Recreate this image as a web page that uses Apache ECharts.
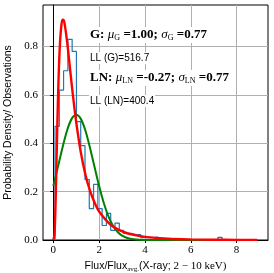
<!DOCTYPE html>
<html><head><meta charset="utf-8">
<script src="https://cdn.jsdelivr.net/npm/echarts@6/dist/echarts.min.js"></script>
<style>html,body{margin:0;padding:0;background:#fff}#c{width:274px;height:273px}</style>
</head><body><div id="c"></div>
<script>
// Histogram (step outline): first bin edge, bin width, densities
const binStart = 0.074;
const binWidth = 0.187;
const histValues = [0.47,0.62,0.70,0.83,0.78,0.49,0.39,0.25,0.13,0.23,0.13,0.06,0.11,0.04,0.07,0.04,0.027,0.027,0.022,0.022,0.01,0.01,0.01,0.012,0,0.005,0,0,0,0,0,0,0,0,0,0,0,0,0.011,0,0,0,0,0,0,0,0];
// Gaussian fit curve
const gaussX = [0,0.2,0.4,0.6,0.8,1.0,1.2,1.4,1.6,1.8,2.0,2.2,2.4,2.6,2.8,3.0,3.3,3.6,4.0,5.0,6.0,7.0,8.0,8.9];
const gaussY = [0.223,0.302,0.382,0.453,0.501,0.518,0.501,0.453,0.382,0.302,0.223,0.154,0.099,0.060,0.034,0.018,0.006,0.0017,0.0003,0,0,0,0,0];
// Log-normal fit curve
const lnX = [0,0.05,0.1,0.15,0.2,0.25,0.3,0.35,0.4,0.45,0.5,0.6,0.7,0.8,0.9,1.0,1.2,1.4,1.6,1.8,2.0,2.5,3.0,3.5,4.0,5.0,6.0,7.0,8.0,8.9];
const lnY = [0,0.020,0.159,0.371,0.571,0.725,0.828,0.886,0.911,0.910,0.891,0.822,0.735,0.646,0.563,0.487,0.363,0.271,0.204,0.155,0.118,0.063,0.036,0.021,0.013,0.0053,0.0024,0.0012,0.0006,0.0004];
const xTicks = [0,2,4,6,8];
const yTicks = [0,0.2,0.4,0.6,0.8];

const histData = [];
histValues.forEach((v,i)=>{
  const a = binStart + i*binWidth, b = a + binWidth;
  if(i===0) histData.push([a,0]);
  histData.push([a,v],[b,v]);
});
histData.push([binStart + histValues.length*binWidth, 0]);

const chart = echarts.init(document.getElementById('c'), null, {renderer:'canvas'});
const serif = 'Liberation Serif';
const sans = 'Liberation Sans';
const annRich = {
  b:{fontFamily:serif,fontWeight:'bold',fontSize:13,fill:'#000'},
  i:{fontFamily:serif,fontStyle:'italic',fontSize:13,fill:'#000'},
  s:{fontFamily:serif,fontSize:8,fill:'#000',padding:[6,0,0,0]}
};
chart.setOption({
  animation:false,
  backgroundColor:'#fff',
  grid:{left:43,right:6,top:5,bottom:33,outerBoundsMode:'none',containLabel:false,show:true,borderColor:'#000',borderWidth:1,backgroundColor:'transparent'},
  xAxis:{type:'value',min:-0.45,max:9.37,
    axisLine:{show:true,onZero:false,lineStyle:{color:'#000',width:1}},
    axisTick:{show:true,length:3,customValues:xTicks,lineStyle:{color:'#000'}},
    axisLabel:{customValues:xTicks,fontFamily:serif,fontSize:11,color:'#000',margin:5},
    splitLine:{show:true,lineStyle:{color:'#b0b0b0',width:1}},
    name:'{a|Flux/Flux}{s|avg.}{a|(X-ray; }{m|2 − 10 keV)}',
    nameLocation:'middle',nameGap:19,
    nameTextStyle:{rich:{
      a:{fontFamily:sans,fontSize:10.5,color:'#000'},
      s:{fontFamily:serif,fontSize:7,color:'#000',padding:[6,0,0,0]},
      m:{fontFamily:serif,fontSize:11,color:'#000'}
    }}
  },
  yAxis:{type:'value',min:0,max:0.972,
    axisLine:{show:true,lineStyle:{color:'#000',width:1}},
    axisTick:{show:true,length:3,customValues:yTicks,lineStyle:{color:'#000'}},
    axisLabel:{customValues:yTicks,fontFamily:serif,fontSize:11,color:'#000',margin:5,formatter:v=>v.toFixed(1)},
    splitLine:{show:true,lineStyle:{color:'#b0b0b0',width:1}},
    name:'Probability Density/ Observations',nameLocation:'middle',nameGap:29,nameRotate:90,
    nameTextStyle:{fontFamily:sans,fontSize:10.5,color:'#000'}
  },
  series:[
    {type:'line',data:histData,symbol:'none',lineStyle:{color:'#1f77b4',width:1.2},z:2},
    {type:'line',data:gaussX.map((x,i)=>[x,gaussY[i]]),symbol:'none',smooth:0.3,lineStyle:{color:'#008000',width:2},z:3},
    {type:'line',data:lnX.map((x,i)=>[x,lnY[i]]),symbol:'none',smooth:0.3,lineStyle:{color:'#ff0000',width:2.4},z:4}
  ],
  graphic:[
    {type:'text',left:89,top:27,z:10,style:{
      text:'{b|G:} {i|μ}{s|G} {b|=1.00;} {i|σ}{s|G} {b|=0.77}',
      backgroundColor:'#fff',padding:[1,1,1,1],rich:annRich}},
    {type:'text',left:89,top:52,z:10,style:{text:'LL (G)=516.7',font:'10px "Liberation Sans"',fill:'#000',backgroundColor:'#fff',padding:[1,1,1,1]}},
    {type:'text',left:89,top:70,z:10,style:{
      text:'{b|LN:} {i|μ}{s|LN} {b|=-0.27;} {i|σ}{s|LN} {b|=0.77}',
      backgroundColor:'#fff',padding:[1,1,1,1],rich:annRich}},
    {type:'text',left:89,top:95,z:10,style:{text:'LL (LN)=400.4',font:'10px "Liberation Sans"',fill:'#000',backgroundColor:'#fff',padding:[1,1,1,1]}}
  ]
});
</script></body></html>
